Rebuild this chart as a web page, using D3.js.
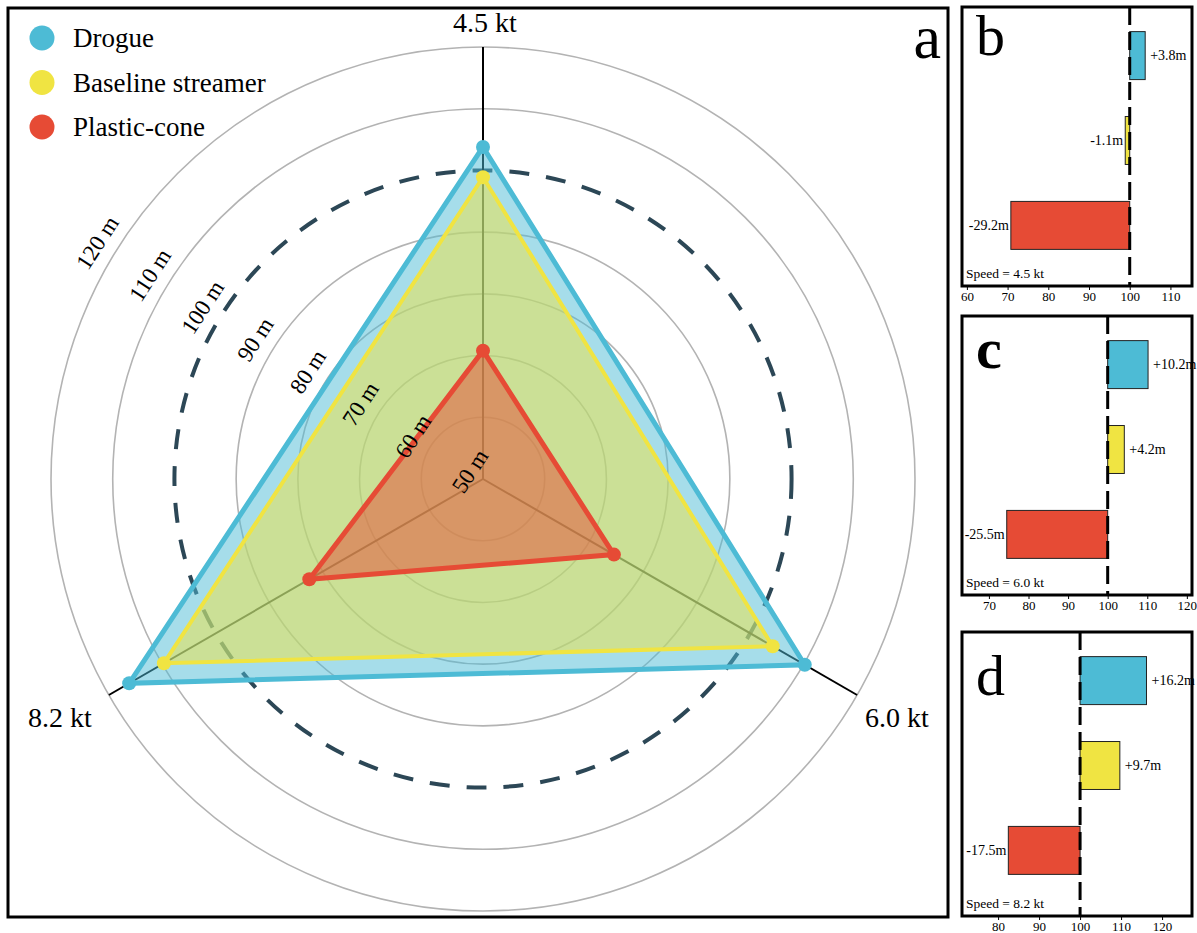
<!DOCTYPE html>
<html>
<head>
<meta charset="utf-8">
<script src="https://cdn.jsdelivr.net/npm/d3@7"></script>
<style>
  body { margin: 0; background: #fff; }
  svg { font-family: "Liberation Serif", "DejaVu Serif", serif; }
</style>
</head>
<body>
<svg id="chart" width="1197" height="933"></svg>
<script>
// Data
var speeds = ["4.5 kt", "6.0 kt", "8.2 kt"];
var devices = ["Drogue", "Baseline streamer", "Plastic-cone"];
var drogue = [103.8, 110.2, 116.2];
var baseline = [98.9, 104.2, 109.7];
var plastic = [70.8, 74.5, 82.5];
var ringValues = [50, 60, 70, 80, 90, 100, 110, 120];
var referenceValue = 100;
var panelLetters = ["b", "c", "d"];
var barTicks = [[60, 70, 80, 90, 100, 110], [70, 80, 90, 100, 110, 120], [80, 90, 100, 110, 120]];
var barDomains = [[58.8, 115.3], [63.2, 121.3], [71.2, 127.3]];

var colors = ["#4dbbd5", "#f0e442", "#e64b35"];
var series = [drogue, baseline, plastic];

var svg = d3.select("#chart");

// ---------- panel a: radar ----------
svg.append("rect")
  .attr("x", 8).attr("y", 8).attr("width", 940).attr("height", 909)
  .attr("fill", "none").attr("stroke", "#000").attr("stroke-width", 3);

var cx = 483, cy = 479;
var r = d3.scaleLinear().domain([50, 120]).range([0, 432]);
var angle = d3.scalePoint().domain(speeds).range([0, 240]); // degrees, clockwise from top

function pt(speed, v) {
  var a = angle(speed) * Math.PI / 180;
  return [cx + r(v) * Math.sin(a), cy - r(v) * Math.cos(a)];
}

var radar = svg.append("g");

// grey rings
radar.selectAll(".ring")
  .data(ringValues.filter(function(d) { return d > 50 && d != referenceValue; }))
  .enter().append("circle")
  .attr("cx", cx).attr("cy", cy)
  .attr("r", function(d) { return r(d); })
  .attr("fill", "none").attr("stroke", "#b3b3b3").attr("stroke-width", 1.6);

// reference ring (dashed)
radar.append("circle")
  .attr("cx", cx).attr("cy", cy).attr("r", r(referenceValue))
  .attr("fill", "none").attr("stroke", "#2c4756").attr("stroke-width", 4)
  .attr("stroke-dasharray", "20,17");

// axis lines
radar.selectAll(".spoke")
  .data(speeds).enter().append("line")
  .attr("x1", cx).attr("y1", cy)
  .attr("x2", function(d) { return pt(d, 120)[0]; })
  .attr("y2", function(d) { return pt(d, 120)[1]; })
  .attr("stroke", "#000").attr("stroke-width", 2);

// polygons
var line = d3.line();
series.forEach(function(vals, i) {
  var pts = speeds.map(function(s, j) { return pt(s, vals[j]); });
  radar.append("path")
    .attr("d", line(pts) + "Z")
    .attr("fill", colors[i]).attr("fill-opacity", 0.5)
    .attr("stroke", colors[i]).attr("stroke-width", i == 1 ? 4 : 5)
    .attr("stroke-linejoin", "miter");
});
series.forEach(function(vals, i) {
  radar.selectAll(".dot" + i)
    .data(speeds).enter().append("circle")
    .attr("cx", function(s, j) { return pt(s, vals[j])[0]; })
    .attr("cy", function(s, j) { return pt(s, vals[j])[1]; })
    .attr("r", 7).attr("fill", colors[i]);
});

// ring labels
var labelAngle = -57;
radar.selectAll(".rlab")
  .data(ringValues).enter().append("text")
  .attr("transform", function(d) {
    var a = -58.5 * Math.PI / 180;
    var rr = d == 50 ? 15 : r(d) + 20;
    var x = cx + rr * Math.sin(a), y = cy - rr * Math.cos(a);
    return "translate(" + x + "," + y + ") rotate(" + labelAngle + ")";
  })
  .attr("text-anchor", "middle").attr("dominant-baseline", "central")
  .attr("font-size", 23)
  .text(function(d) { return d + " m"; });

// speed labels
var speedLabelPos = [[485, 32], [897, 727], [60, 727]];
radar.selectAll(".slab")
  .data(speeds).enter().append("text")
  .attr("x", function(d, i) { return speedLabelPos[i][0]; })
  .attr("y", function(d, i) { return speedLabelPos[i][1]; })
  .attr("text-anchor", "middle")
  .attr("font-size", 28)
  .text(function(d) { return d; });

// legend
var legend = svg.append("g");
devices.forEach(function(d, i) {
  legend.append("circle").attr("cx", 42).attr("cy", 38 + i * 44.5).attr("r", 12.5).attr("fill", colors[i]);
  legend.append("text").attr("x", 73).attr("y", 47 + i * 44.5).attr("font-size", 27).text(d);
});

svg.append("text").attr("x", 941).attr("y", 58).attr("text-anchor", "end")
  .attr("font-size", 62).text("a");

// ---------- panels b, c, d: bars ----------
var panels = [
  { y: 7, h: 279 },
  { y: 316, h: 279 },
  { y: 632, h: 284 }
];
var px = 962, pw = 230;

panels.forEach(function(p, k) {
  var g = svg.append("g");
  var x = d3.scaleLinear().domain(barDomains[k]).range([px, px + pw]);
  var y = d3.scaleBand().domain(devices).range([p.y, p.y + 267])
    .paddingInner(0.435).paddingOuter(0.29);
  var vals = series.map(function(s) { return s[k]; });

  g.selectAll("rect.bar")
    .data(devices).enter().append("rect")
    .attr("x", function(d, i) { return x(Math.min(vals[i], referenceValue)); })
    .attr("width", function(d, i) { return Math.abs(x(vals[i]) - x(referenceValue)); })
    .attr("y", function(d) { return y(d); })
    .attr("height", y.bandwidth())
    .attr("fill", function(d, i) { return colors[i]; })
    .attr("stroke", "#222").attr("stroke-width", 1);

  g.selectAll("text.val")
    .data(devices).enter().append("text")
    .attr("x", function(d, i) {
      var diff = vals[i] - referenceValue;
      return diff >= 0 ? x(vals[i]) + 5 : x(vals[i]) - 2;
    })
    .attr("y", function(d) { return y(d) + y.bandwidth() / 2; })
    .attr("dominant-baseline", "central")
    .attr("text-anchor", function(d, i) { return vals[i] >= referenceValue ? "start" : "end"; })
    .attr("font-size", 14)
    .text(function(d, i) {
      var diff = vals[i] - referenceValue;
      return (diff >= 0 ? "+" : "-") + Math.abs(diff).toFixed(1) + "m";
    });

  g.append("line")
    .attr("x1", x(referenceValue)).attr("x2", x(referenceValue))
    .attr("y1", p.y).attr("y2", p.y + p.h)
    .attr("stroke", "#000").attr("stroke-width", 3)
    .attr("stroke-dasharray", "18,7");

  g.append("rect")
    .attr("x", px).attr("y", p.y).attr("width", pw).attr("height", p.h)
    .attr("fill", "none").attr("stroke", "#000").attr("stroke-width", 3);

  g.append("text").attr("x", px + 4).attr("y", p.y + p.h - 8)
    .attr("font-size", 13.5).text("Speed = " + speeds[k]);

  g.append("text").attr("x", px + 14).attr("y", p.y + 48 + (k == 2 ? 15 : k == 1 ? 4 : 0))
    .attr("font-size", 58).attr("font-weight", k == 1 ? "bold" : "normal")
    .text(panelLetters[k]);

  var axis = g.append("g")
    .attr("transform", "translate(0," + (p.y + p.h + 1) + ")")
    .call(d3.axisBottom(x).tickValues(barTicks[k]).tickSize(3).tickPadding(2));
  axis.select(".domain").remove();
  axis.selectAll("text").attr("font-family", "Liberation Serif, serif").attr("font-size", 13).attr("fill", "#000");
  axis.selectAll("line").attr("stroke", "#000");
});
</script>
</body>
</html>
